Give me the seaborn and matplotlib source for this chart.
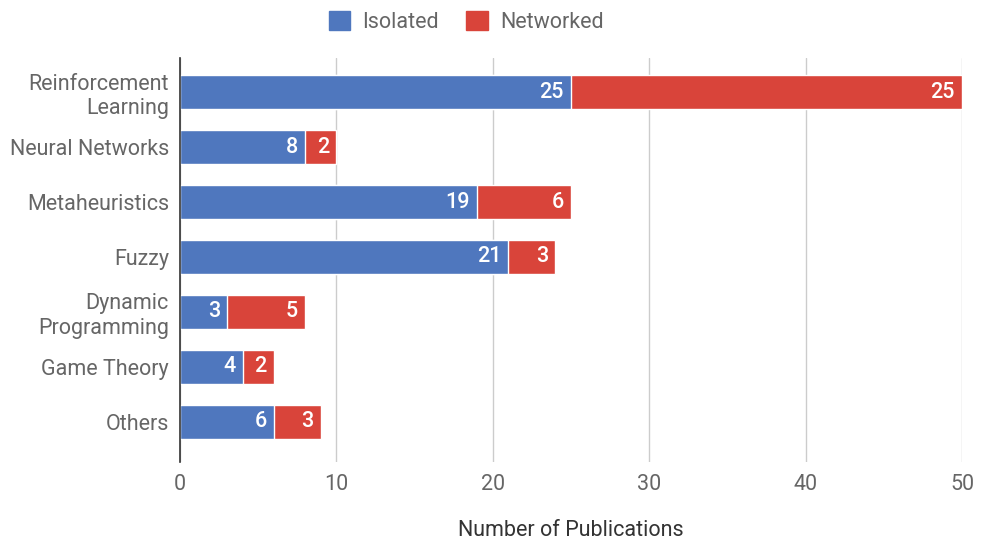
import matplotlib
matplotlib.use("Agg")
import matplotlib.pyplot as plt
import seaborn as sns
import pandas as pd
from matplotlib.patches import Patch

categories = ["Reinforcement\nLearning", "Neural Networks", "Metaheuristics", "Fuzzy",
              "Dynamic\nProgramming", "Game Theory", "Others"]
isolated = [25, 8, 19, 21, 3, 4, 6]
networked = [25, 2, 6, 3, 5, 2, 3]
x_ticks = [0, 10, 20, 30, 40, 50]

BLUE = "#4f77be"
RED = "#d9443a"
GRAY = "#666666"
FS = 15.5

sns.set_theme(style="white")
plt.rcParams["font.family"] = ["Roboto", "DejaVu Sans"]

df = pd.DataFrame({"cat": categories, "iso": isolated, "net": networked})
df["total"] = df["iso"] + df["net"]

fig = plt.figure(figsize=(9.89, 5.44), dpi=100)
ax = fig.add_axes([180 / 989, 1 - 462 / 544, (962 - 180) / 989, (462 - 58) / 544])

sns.barplot(data=df, y="cat", x="total", color=RED, orient="h", width=0.62,
            saturation=1, ax=ax, zorder=3)
sns.barplot(data=df, y="cat", x="iso", color=BLUE, orient="h", width=0.62,
            saturation=1, ax=ax, zorder=4)

for i, (a, b) in enumerate(zip(isolated, networked)):
    ax.text(a - 0.45, i, str(a), ha="right", va="center", color="white",
            fontsize=FS, fontweight="medium", zorder=5)
    ax.text(a + b - 0.45, i, str(b), ha="right", va="center", color="white",
            fontsize=FS, fontweight="medium", zorder=5)

ax.set_xlim(0, 50)
ax.set_ylim(6.73, -0.62)
ax.set_xticks(x_ticks)
ax.set_xticklabels([str(t) for t in x_ticks])
ax.grid(axis="x", color="#cccccc", linewidth=1, zorder=0)
ax.set_axisbelow(True)
for s in ["top", "right", "bottom"]:
    ax.spines[s].set_visible(False)
ax.spines["left"].set_color("#333333")
ax.spines["left"].set_linewidth(1.2)
ax.spines["left"].set_zorder(6)
ax.tick_params(axis="both", length=0, colors=GRAY, labelsize=FS)
ax.tick_params(axis="y", pad=8)
ax.tick_params(axis="x", pad=9)
ax.set_ylabel("")
ax.set_xlabel("Number of Publications", color="#333333", fontsize=FS, labelpad=18)
for lbl in ax.get_yticklabels():
    lbl.set_multialignment("right")

handles = [Patch(facecolor=BLUE, edgecolor=BLUE, label="Isolated"),
           Patch(facecolor=RED, edgecolor=RED, label="Networked")]
fig.legend(handles=handles, loc="center", bbox_to_anchor=(466 / 989, 1 - 22 / 544),
           ncol=2, frameon=False, fontsize=FS, labelcolor=GRAY, handlelength=1.0,
           handleheight=1.0, columnspacing=1.3, handletextpad=0.55)

fig.savefig("out.png", dpi=100)
